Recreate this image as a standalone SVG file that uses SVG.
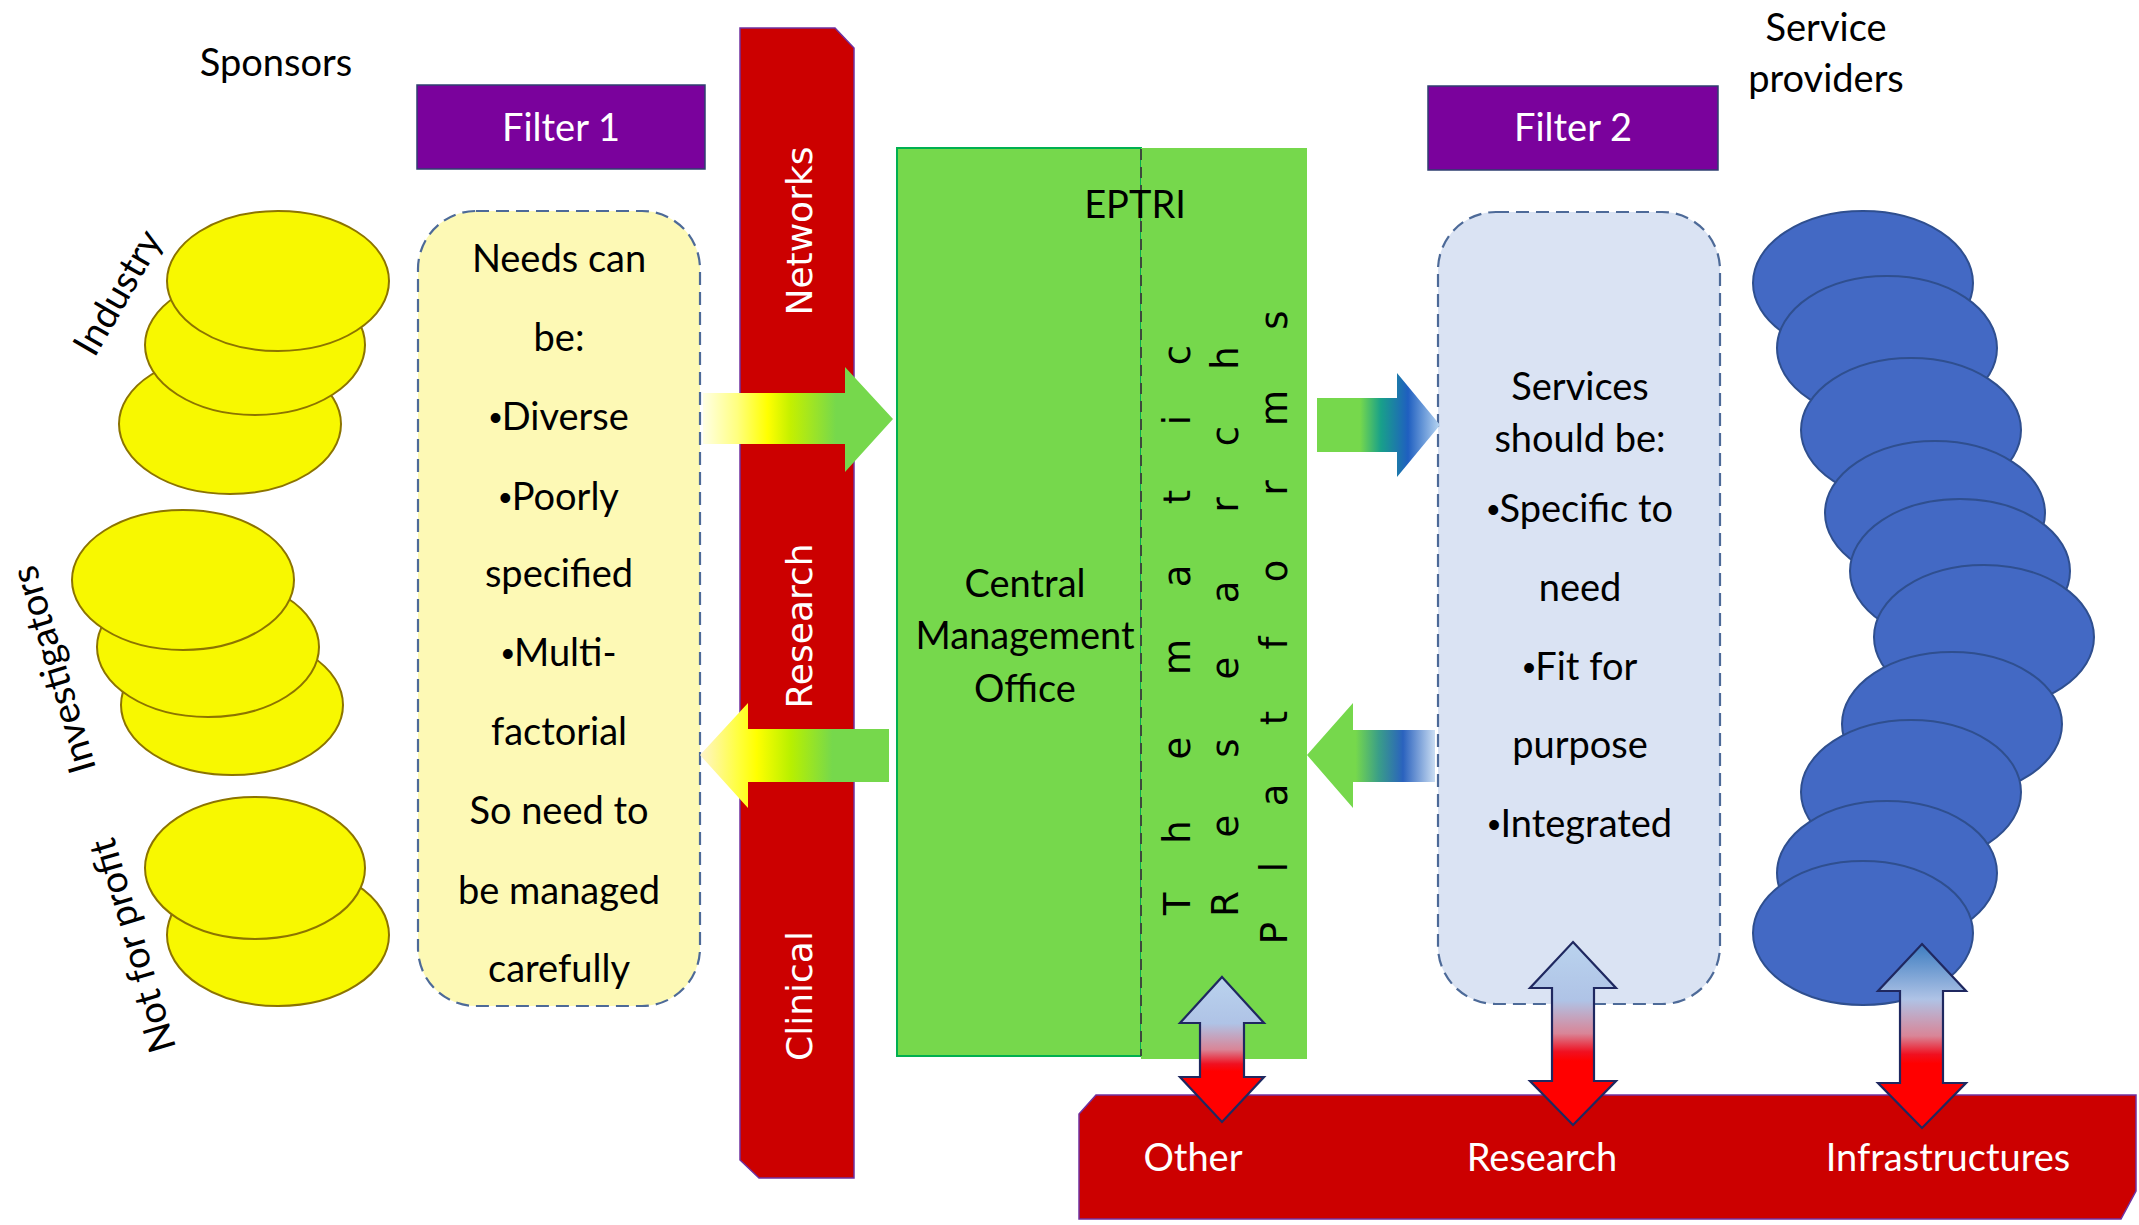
<svg xmlns="http://www.w3.org/2000/svg" width="2139" height="1225" viewBox="0 0 2139 1225">
  <style>
    .t { font-family: Lato, "Liberation Sans", sans-serif; font-size: 38px; fill: #000; text-anchor: middle; }
    .tw { font-family: Lato, "Liberation Sans", sans-serif; font-size: 38px; fill: #fff; text-anchor: middle; }
    .b { font-family: "Liberation Sans", sans-serif; font-size: 36px; }
    .bar { font-family: "DejaVu Sans", Verdana, sans-serif; font-size: 36px; fill: #fff; text-anchor: middle; }
    .tp { font-family: "DejaVu Sans", Verdana, sans-serif; font-size: 37px; fill: #000; text-anchor: middle; }
    .lbl { font-family: Lato, "Liberation Sans", sans-serif; font-size: 38px; fill: #000; text-anchor: middle; }
    .yel { fill: #F8F800; stroke: #8C7400; stroke-width: 2; }
    .blu { fill: #4369C4; stroke: #2F4F8F; stroke-width: 2; }
    .red { fill: #CC0000; stroke: #7030A0; stroke-width: 1.5; }
    .pur { fill: #7A029C; stroke: #2F3F70; stroke-width: 1.5; }
    .dash { stroke: #4D6A98; stroke-width: 2.2; stroke-dasharray: 13 7; }
    .grn { fill: #76D84C; }
    .dbl { stroke: #1F2860; stroke-width: 2.2; }
  </style>
  <defs>
    <linearGradient id="gYG" gradientUnits="userSpaceOnUse" x1="703" y1="0" x2="893" y2="0">
      <stop offset="0" stop-color="#FFFFE4"/>
      <stop offset="0.18" stop-color="#FFFF80"/>
      <stop offset="0.34" stop-color="#FFFF00"/>
      <stop offset="0.46" stop-color="#C4F000"/>
      <stop offset="0.7" stop-color="#76D84C"/>
      <stop offset="1" stop-color="#76D84C"/>
    </linearGradient>
    <linearGradient id="gYG2" gradientUnits="userSpaceOnUse" x1="700" y1="0" x2="889" y2="0">
      <stop offset="0" stop-color="#FFF4CC"/>
      <stop offset="0.2" stop-color="#FFFF40"/>
      <stop offset="0.3" stop-color="#FFFF00"/>
      <stop offset="0.48" stop-color="#B8F000"/>
      <stop offset="0.7" stop-color="#76D84C"/>
      <stop offset="1" stop-color="#76D84C"/>
    </linearGradient>
    <linearGradient id="gGB" gradientUnits="userSpaceOnUse" x1="1317" y1="0" x2="1440" y2="0">
      <stop offset="0" stop-color="#76D84C"/>
      <stop offset="0.35" stop-color="#76D84C"/>
      <stop offset="0.52" stop-color="#18A08A"/>
      <stop offset="0.74" stop-color="#1F5FC0"/>
      <stop offset="1" stop-color="#B8D6F2"/>
    </linearGradient>
    <linearGradient id="gGB2" gradientUnits="userSpaceOnUse" x1="1307" y1="0" x2="1435" y2="0">
      <stop offset="0" stop-color="#76D84C"/>
      <stop offset="0.38" stop-color="#76D84C"/>
      <stop offset="0.56" stop-color="#3A9E88"/>
      <stop offset="0.75" stop-color="#2A62BE"/>
      <stop offset="1" stop-color="#CADDF2"/>
    </linearGradient>
    <linearGradient id="gBR" x1="0" y1="0" x2="0" y2="1">
      <stop offset="0" stop-color="#BAD3EE"/>
      <stop offset="0.32" stop-color="#AFC3E6"/>
      <stop offset="0.5" stop-color="#D98597"/>
      <stop offset="0.6" stop-color="#F01020"/>
      <stop offset="0.65" stop-color="#FF0000"/>
      <stop offset="1" stop-color="#FF0000"/>
    </linearGradient>
    <linearGradient id="gBR3" x1="0" y1="0" x2="0" y2="1">
      <stop offset="0" stop-color="#3C7CC0"/>
      <stop offset="0.3" stop-color="#AFC3E6"/>
      <stop offset="0.5" stop-color="#D98597"/>
      <stop offset="0.6" stop-color="#F01020"/>
      <stop offset="0.65" stop-color="#FF0000"/>
      <stop offset="1" stop-color="#FF0000"/>
    </linearGradient>
  </defs>
  <rect width="2139" height="1225" fill="#fff"/>

  <g id="sponsors">
    <text class="lbl" x="276" y="76">Sponsors</text>
  </g>

  <g id="industry">
    <ellipse class="yel" cx="230" cy="424" rx="111" ry="70"/>
    <ellipse class="yel" cx="255" cy="345" rx="110" ry="70"/>
    <ellipse class="yel" cx="278" cy="281" rx="111" ry="70"/>
    <text class="lbl" transform="translate(129,299) rotate(-60)">Industry</text>
  </g>

  <g id="investigators">
    <ellipse class="yel" cx="232" cy="705" rx="111" ry="70"/>
    <ellipse class="yel" cx="208" cy="647" rx="111" ry="70"/>
    <ellipse class="yel" cx="183" cy="580" rx="111" ry="70"/>
    <text class="lbl" transform="translate(66,666) rotate(-106.5)">Investigators</text>
  </g>

  <g id="not-for-profit">
    <ellipse class="yel" cx="278" cy="935" rx="111" ry="71"/>
    <ellipse class="yel" cx="255" cy="868" rx="110" ry="71"/>
    <text class="lbl" transform="translate(145,942) rotate(-106.5)">Not for profit</text>
  </g>

  <g id="filter1">
    <rect class="pur" x="417" y="85" width="288" height="84"/>
    <text class="tw" x="561" y="141">Filter 1</text>
  </g>

  <g id="needs">
    <rect class="dash" x="418" y="211" width="282" height="795" rx="58" fill="#FDF9B5"/>
    <text class="t" x="559" y="272">Needs can</text>
    <text class="t" x="559" y="351">be:</text>
    <text class="t" x="559" y="430"><tspan class="b">•</tspan>Diverse</text>
    <text class="t" x="559" y="510"><tspan class="b">•</tspan>Poorly</text>
    <text class="t" x="559" y="587">specified</text>
    <text class="t" x="559" y="666"><tspan class="b">•</tspan>Multi-</text>
    <text class="t" x="559" y="745">factorial</text>
    <text class="t" x="559" y="824">So need to</text>
    <text class="t" x="559" y="904">be managed</text>
    <text class="t" x="559" y="982">carefully</text>
  </g>

  <g id="clinical-research-networks">
    <path class="red" d="M740,28 L835,28 L854,48 L854,1178 L759,1178 L740,1160 Z"/>
    <text class="bar" transform="translate(812,231) rotate(-90)">Networks</text>
    <text class="bar" transform="translate(812,626) rotate(-90)">Research</text>
    <text class="bar" transform="translate(812,996) rotate(-90)">Clinical</text>
  </g>

  <g id="eptri">
    <rect class="grn" x="897" y="148" width="244" height="908" stroke="#00B050" stroke-width="2"/>
    <rect class="grn" x="1141" y="148" width="166" height="911"/>
    <line x1="1141" y1="149" x2="1141" y2="1056" stroke="#3C4A3C" stroke-width="2" stroke-dasharray="11 7"/>
    <text class="t" x="1135" y="218">EPTRI</text>
    <text class="t" x="1025" y="597">Central</text>
    <text class="t" x="1025" y="649">Management</text>
    <text class="t" x="1025" y="702">Office</text>
    <text class="tp" transform="rotate(-90)"><tspan x="-904" y="1190">T</tspan><tspan x="-832" y="1190">h</tspan><tspan x="-748" y="1190">e</tspan><tspan x="-657" y="1190">m</tspan><tspan x="-576" y="1190">a</tspan><tspan x="-497" y="1190">t</tspan><tspan x="-420" y="1190">i</tspan><tspan x="-355" y="1190">c</tspan></text>
    <text class="tp" transform="rotate(-90)"><tspan x="-904" y="1238">R</tspan><tspan x="-826" y="1238">e</tspan><tspan x="-748" y="1238">s</tspan><tspan x="-668" y="1238">e</tspan><tspan x="-592" y="1238">a</tspan><tspan x="-505" y="1238">r</tspan><tspan x="-436" y="1238">c</tspan><tspan x="-358" y="1238">h</tspan></text>
    <text class="tp" transform="rotate(-90)"><tspan x="-933" y="1287">P</tspan><tspan x="-867" y="1287">l</tspan><tspan x="-795" y="1287">a</tspan><tspan x="-718" y="1287">t</tspan><tspan x="-643" y="1287">f</tspan><tspan x="-571" y="1287">o</tspan><tspan x="-488" y="1287">r</tspan><tspan x="-408" y="1287">m</tspan><tspan x="-320" y="1287">s</tspan></text>
  </g>

  <g id="filter2">
    <rect class="pur" x="1428" y="86" width="290" height="84"/>
    <text class="tw" x="1573" y="141">Filter 2</text>
  </g>

  <g id="services">
    <rect class="dash" x="1438" y="212" width="282" height="792" rx="58" fill="#DAE3F3"/>
    <text class="t" x="1580" y="400">Services</text>
    <text class="t" x="1580" y="452">should be:</text>
    <text class="t" x="1580" y="522"><tspan class="b">•</tspan>Specific to</text>
    <text class="t" x="1580" y="601">need</text>
    <text class="t" x="1580" y="680"><tspan class="b">•</tspan>Fit for</text>
    <text class="t" x="1580" y="758">purpose</text>
    <text class="t" x="1580" y="837"><tspan class="b">•</tspan>Integrated</text>
  </g>

  <g id="service-providers">
    <text class="lbl" x="1826" y="41">Service</text>
    <text class="lbl" x="1826" y="92">providers</text>
    <ellipse class="blu" cx="1863" cy="283" rx="110" ry="72"/>
    <ellipse class="blu" cx="1887" cy="348" rx="110" ry="72"/>
    <ellipse class="blu" cx="1911" cy="430" rx="110" ry="72"/>
    <ellipse class="blu" cx="1935" cy="513" rx="110" ry="72"/>
    <ellipse class="blu" cx="1960" cy="571" rx="110" ry="72"/>
    <ellipse class="blu" cx="1984" cy="637" rx="110" ry="72"/>
    <ellipse class="blu" cx="1952" cy="724" rx="110" ry="72"/>
    <ellipse class="blu" cx="1911" cy="792" rx="110" ry="72"/>
    <ellipse class="blu" cx="1887" cy="873" rx="110" ry="72"/>
    <ellipse class="blu" cx="1863" cy="933" rx="110" ry="72"/>
  </g>

  <g id="infrastructures-bar">
    <path class="red" d="M1096,1095 L2136,1095 L2136,1191 L2121,1219 L1079,1219 L1079,1114 Z"/>
    <text class="tw" x="1193" y="1171">Other</text>
    <text class="tw" x="1542" y="1171">Research</text>
    <text class="tw" x="1948" y="1171">Infrastructures</text>
  </g>

  <g id="connectors">
    <path d="M703,393 L845,393 L845,367 L893,419 L845,472 L845,444 L703,444 Z" fill="url(#gYG)"/>
    <path d="M700,755 L748,703 L748,729 L889,729 L889,782 L748,782 L748,808 Z" fill="url(#gYG2)"/>
    <path d="M1317,398 L1397,398 L1397,373 L1440,425 L1397,477 L1397,452 L1317,452 Z" fill="url(#gGB)"/>
    <path d="M1307,755 L1353,703 L1353,730 L1435,730 L1435,782 L1353,782 L1353,808 Z" fill="url(#gGB2)"/>
    <path class="dbl" fill="url(#gBR)" d="M1222,977 L1264,1023 L1244,1023 L1244,1077 L1264,1077 L1222,1122 L1180,1077 L1200,1077 L1200,1023 L1180,1023 Z"/>
    <path class="dbl" fill="url(#gBR)" d="M1573,942 L1616,988 L1594,988 L1594,1081 L1616,1081 L1573,1125 L1530,1081 L1552,1081 L1552,988 L1530,988 Z"/>
    <path class="dbl" fill="url(#gBR3)" d="M1922,944 L1966,991 L1943,991 L1943,1083 L1966,1083 L1922,1128 L1878,1083 L1900,1083 L1900,991 L1878,991 Z"/>
  </g>
</svg>
